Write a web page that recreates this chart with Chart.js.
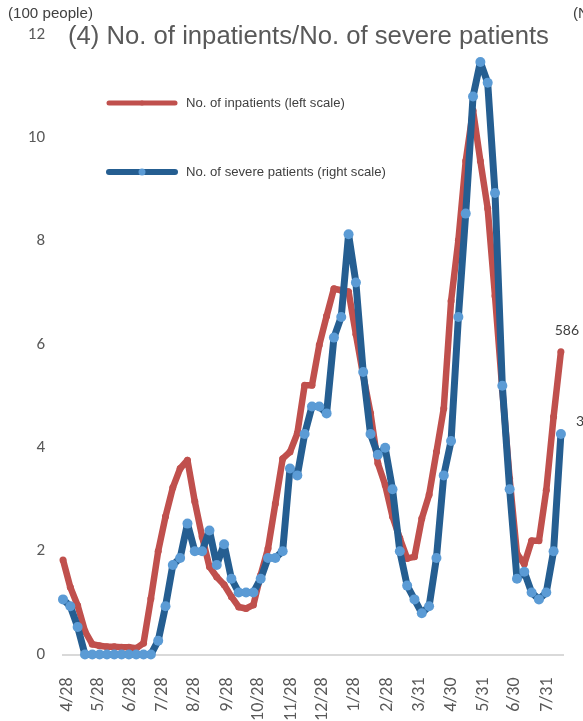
<!DOCTYPE html>
<html>
<head>
<meta charset="utf-8">
<script src="https://cdn.jsdelivr.net/npm/chart.js@4.4.1/dist/chart.umd.min.js"></script>
<style>
html, body { margin: 0; padding: 0; background: #fff; }
#wrap { position: relative; width: 583px; height: 721px; }
</style>
</head>
<body>
<div id="wrap"><canvas id="chartInpatients"></canvas></div>
<script>
// axis origin and first weekly observation
var axisStart = '2020-04-28';
var firstWeek = '2020-04-24';

var tickDates = ['2020-04-28', '2020-05-28', '2020-06-28', '2020-07-28', '2020-08-28', '2020-09-28',
  '2020-10-28', '2020-11-28', '2020-12-28', '2021-01-28', '2021-02-28', '2021-03-31',
  '2021-04-30', '2021-05-31', '2021-06-30', '2021-07-31'];
var tickLabels = ['4/28', '5/28', '6/28', '7/28', '8/28', '9/28', '10/28', '11/28', '12/28',
  '1/28', '2/28', '3/31', '4/30', '5/31', '6/30', '7/31'];

// No. of inpatients (people, left scale in 100 people)
var inpatients = [183, 130, 95, 45, 20, 17, 15, 15, 14, 14, 12, 22, 108, 200, 267, 323, 360, 376, 296, 228,
  170, 150, 135, 112, 92, 89, 96, 154, 205, 292, 379, 392, 428, 521, 521, 599, 655, 708, 705, 702,
  620, 540, 467, 370, 328, 267, 225, 186, 189, 263, 309, 392, 476, 684, 802, 955, 1053, 955, 863, 694,
  512, 340, 195, 175, 220, 220, 318, 460, 586];

// No. of severe patients (people, right scale)
var severe = [8, 7, 4, 0, 0, 0, 0, 0, 0, 0, 0, 0, 0, 2, 7, 13, 14, 19, 15, 15,
  18, 13, 16, 11, 9, 9, 9, 11, 14, 14, 15, 27, 26, 32, 36, 36, 35, 46, 49, 61,
  54, 41, 32, 29, 30, 24, 15, 10, 8, 6, 7, 14, 26, 31, 49, 64, 81, 86, 83, 67,
  39, 24, 11, 12, 9, 8, 9, 15, 32];

var seriesNames = ['No. of inpatients (left scale)', 'No. of severe patients (right scale)'];
var chartTitle = '(4) No. of inpatients/No. of severe patients';

function dayOffset(s) {
  return Math.round((Date.parse(s) - Date.parse(axisStart)) / 86400000);
}
var tickDays = tickDates.map(dayOffset);
var startDay = dayOffset(firstWeek);

function weekly(values) {
  return values.map(function (v, i) { return { x: startDay + 7 * i, y: v }; });
}

var redLine = '#C0504D';
var blueLine = '#255E91';
var blueDot = '#5B9BD5';
var textGrey = '#595959';
var sans = '"Liberation Sans", Arial, sans-serif';

// set a font so that the text takes the given width
function fitFont(ctx, text, width, guess) {
  ctx.font = guess + 'px ' + sans;
  var size = guess * width / ctx.measureText(text).width;
  ctx.font = size.toFixed(2) + 'px ' + sans;
}

var decor = {
  id: 'decor',
  afterDraw: function (chart) {
    var ctx = chart.ctx;
    ctx.save();
    ctx.fillStyle = '#404040';
    ctx.textBaseline = 'middle';
    ctx.textAlign = 'left';
    fitFont(ctx, '(100 people)', 85, 14);
    ctx.fillText('(100 people)', 8, 14);
    ctx.fillText('(No. of people)', 573, 14);

    fitFont(ctx, chartTitle, 481, 24);
    ctx.fillStyle = textGrey;
    ctx.fillText(chartTitle, 68, 37);

    // legend
    var rows = [
      { y: 103, color: redLine, dot: redLine, lw: 5, r: 2.5, w: 159 },
      { y: 172, color: blueLine, dot: blueDot, lw: 6, r: 3.5, w: 200 }
    ];
    rows.forEach(function (row, i) {
      ctx.strokeStyle = row.color;
      ctx.lineWidth = row.lw;
      ctx.lineCap = 'round';
      ctx.beginPath();
      ctx.moveTo(109, row.y);
      ctx.lineTo(175, row.y);
      ctx.stroke();
      ctx.fillStyle = row.dot;
      ctx.beginPath();
      ctx.arc(142, row.y, row.r, 0, Math.PI * 2);
      ctx.fill();
      ctx.fillStyle = '#404040';
      fitFont(ctx, seriesNames[i], row.w, 12);
      ctx.fillText(seriesNames[i], 186, row.y);
    });

    // value labels on the last points
    var redMeta = chart.getDatasetMeta(0);
    var blueMeta = chart.getDatasetMeta(1);
    var lastRed = redMeta.data[redMeta.data.length - 1];
    var lastBlue = blueMeta.data[blueMeta.data.length - 1];
    ctx.font = '14px Lato, "Open Sans", sans-serif';
    ctx.fillStyle = '#404040';
    ctx.textAlign = 'center';
    ctx.fillText(String(inpatients[inpatients.length - 1]), lastRed.x + 6, lastRed.y - 21);
    ctx.textAlign = 'left';
    ctx.fillText(String(severe[severe.length - 1]), lastBlue.x + 15, lastBlue.y - 13);
    ctx.restore();
  }
};

var config = {
  type: 'line',
  data: {
    datasets: [
      {
        label: seriesNames[0],
        data: weekly(inpatients),
        yAxisID: 'y',
        borderColor: redLine,
        borderWidth: 6.5,
        pointRadius: 3.5,
        pointBackgroundColor: redLine,
        pointBorderWidth: 0,
        borderJoinStyle: 'round',
        order: 2,
        clip: false
      },
      {
        label: seriesNames[1],
        data: weekly(severe),
        yAxisID: 'y1',
        borderColor: blueLine,
        borderWidth: 7,
        pointRadius: 5,
        pointBackgroundColor: blueDot,
        pointBorderWidth: 0,
        borderJoinStyle: 'round',
        order: 1,
        clip: false
      }
    ]
  },
  options: {
    responsive: true,
    maintainAspectRatio: false,
    animation: false,
    layout: { padding: { top: 34.5, right: 20, bottom: 0, left: 0 } },
    plugins: {
      legend: { display: false },
      tooltip: { enabled: false }
    },
    scales: {
      x: {
        type: 'linear',
        min: startDay,
        max: 474,
        grid: { display: false, drawTicks: false },
        border: { display: true, color: '#D9D9D9', width: 2 },
        afterBuildTicks: function (scale) {
          scale.ticks = tickDays.map(function (d) { return { value: d }; });
        },
        afterFit: function (scale) {
          scale.height = 66.5;
          scale.paddingLeft = 0;
          scale.paddingRight = 0;
        },
        ticks: {
          autoSkip: false,
          minRotation: 90,
          maxRotation: 90,
          padding: 23,
          color: textGrey,
          font: { family: 'Carlito, Lato, sans-serif', size: 18 },
          callback: function (value, index) { return tickLabels[index]; }
        }
      },
      y: {
        position: 'left',
        min: 0,
        max: 1200,
        grid: { display: false, drawTicks: false },
        border: { display: false },
        afterFit: function (scale) {
          scale.width = 63;
          scale.paddingTop = 0;
          scale.paddingBottom = 0;
        },
        ticks: {
          stepSize: 200,
          padding: 18,
          color: textGrey,
          font: { family: 'Carlito, Lato, sans-serif', size: 17 },
          callback: function (v) { return v / 100; }
        }
      },
      y1: {
        position: 'right',
        display: false,
        min: 0,
        max: 90
      }
    }
  },
  plugins: [decor]
};

var myChartInpatients = new Chart(
  document.querySelector('#chartInpatients').getContext('2d'),
  config
);
</script>
</body>
</html>
